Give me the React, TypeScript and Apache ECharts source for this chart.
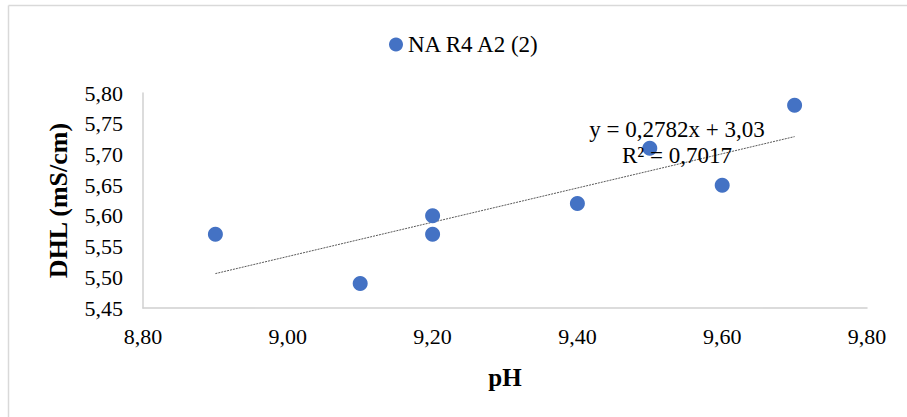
import React, { useEffect, useRef } from "react";
import * as echarts from "echarts";

const seriesName = "NA R4 A2 (2)";
const phValues = [8.9, 9.1, 9.2, 9.2, 9.4, 9.5, 9.6, 9.7];
const dhlValues = [5.57, 5.49, 5.6, 5.57, 5.62, 5.71, 5.65, 5.78];
const trendX = [8.9, 9.7];
const trendY = [5.506, 5.729];
const equationText = "y = 0,2782x + 3,03";
const r2Text = "R² = 0,7017";
const xAxisTitle = "pH";
const yAxisTitle = "DHL (mS/cm)";

const FONT = "'Liberation Serif', 'Times New Roman', serif";
const fmt = (v: number) => v.toFixed(2).replace(".", ",");

export default function App() {
  const ref = useRef<HTMLDivElement>(null);
  useEffect(() => {
    if (!ref.current) return;
    const chart = echarts.init(ref.current, null, { renderer: "svg" });
    const points = phValues.map((x, i) => [x, dhlValues[i]]);
    const trend = trendX.map((x, i) => [x, trendY[i]]);
    chart.setOption({
      animation: false,
      backgroundColor: "#ffffff",
      grid: { left: 143, top: 93, right: 40, bottom: 109 },
      legend: {
        data: [{ name: seriesName, icon: "circle" }],
        left: 384,
        top: 28,
        itemWidth: 14,
        itemHeight: 14,
        itemGap: 3,
        textStyle: { fontFamily: FONT, fontSize: 23, color: "#000" },
      },
      xAxis: {
        type: "value",
        min: 8.8,
        max: 9.8,
        interval: 0.2,
        name: xAxisTitle,
        nameLocation: "middle",
        nameGap: 69,
        nameTextStyle: {
          fontFamily: FONT,
          fontSize: 25,
          fontWeight: "bold",
          color: "#000",
          verticalAlign: "middle",
        },
        axisLine: { show: true, lineStyle: { color: "#d0d0d0", width: 1.5 } },
        axisTick: { show: false },
        splitLine: { show: false },
        axisLabel: {
          formatter: fmt,
          fontFamily: FONT,
          fontSize: 22,
          color: "#000",
          margin: 17,
        },
      },
      yAxis: {
        type: "value",
        min: 5.45,
        max: 5.8,
        interval: 0.05,
        name: yAxisTitle,
        nameLocation: "middle",
        nameGap: 85,
        nameTextStyle: {
          fontFamily: FONT,
          fontSize: 26,
          fontWeight: "bold",
          color: "#000",
          verticalAlign: "middle",
        },
        axisLine: { show: true, lineStyle: { color: "#d0d0d0", width: 1.5 } },
        axisTick: { show: false },
        splitLine: { show: false },
        axisLabel: {
          formatter: fmt,
          fontFamily: FONT,
          fontSize: 22,
          color: "#000",
          margin: 20,
        },
      },
      series: [
        {
          name: seriesName,
          type: "scatter",
          data: points,
          symbol: "circle",
          symbolSize: 15,
          itemStyle: { color: "#4472C4", opacity: 1 },
          z: 3,
        },
        {
          name: "trend",
          type: "line",
          data: trend,
          symbol: "none",
          lineStyle: { color: "#595959", width: 1, type: [2, 1] },
          z: 2,
        },
      ],
      graphic: [
        {
          type: "line",
          shape: { x1: 8.5, y1: 5.5, x2: 907, y2: 5.5 },
          style: { stroke: "#d9d9d9", lineWidth: 1.5 },
          silent: true,
        },
        {
          type: "line",
          shape: { x1: 8.5, y1: 5.5, x2: 8.5, y2: 417 },
          style: { stroke: "#d9d9d9", lineWidth: 1.5 },
          silent: true,
        },
        {
          type: "text",
          x: 677,
          y: 129,
          z: 10,
          style: {
            text: equationText,
            fontFamily: FONT,
            fontSize: 23,
            fill: "#000",
            align: "center",
            verticalAlign: "middle",
          },
        },
        {
          type: "text",
          x: 677,
          y: 155,
          z: 10,
          style: {
            text: r2Text,
            fontFamily: FONT,
            fontSize: 23,
            fill: "#000",
            align: "center",
            verticalAlign: "middle",
          },
        },
      ],
    });
    return () => chart.dispose();
  }, []);
  return (
    <div
      ref={ref}
      style={{ position: "fixed", left: 0, top: 0, width: 907, height: 417 }}
    />
  );
}
